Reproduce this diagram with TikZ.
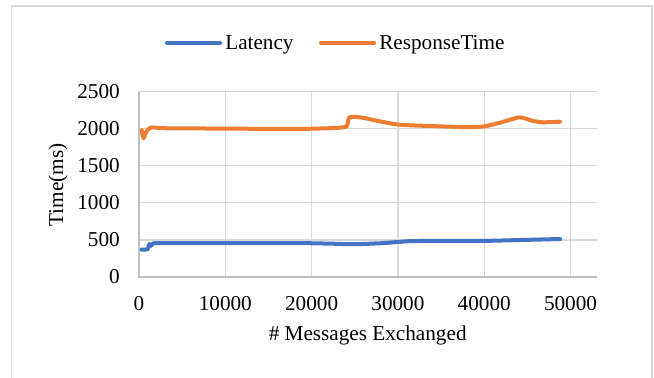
\documentclass[tikz,border=0pt]{standalone}
\usepackage{fontspec}
\setmainfont{Liberation Serif}
\definecolor{latc}{HTML}{4472C4}
\definecolor{respc}{HTML}{ED7D31}
\definecolor{gridc}{HTML}{D9D9D9}
\definecolor{axisc}{HTML}{BFBFBF}

\begin{document}
\begin{tikzpicture}[x=6.4725pt,y=5.565pt,font=\fontsize{15.9}{18}\selectfont]
\useasboundingbox (-16.107,-13.477) rectangle (59.676,37.332);
% chart frame (open at the bottom)
\draw[gridc,line width=1.1pt] (-14.77,-14.5) -- (-14.77,36.52) -- (59.44,36.52) -- (59.44,-14.5);
% grid
\draw[gridc,line width=1pt] (0,5) -- (53.07,5);
\draw[gridc,line width=1pt] (0,10) -- (53.07,10);
\draw[gridc,line width=1pt] (0,15) -- (53.07,15);
\draw[gridc,line width=1pt] (0,20) -- (53.07,20);
\draw[gridc,line width=1pt] (0,25) -- (53.07,25);
\draw[gridc,line width=1pt] (10,0) -- (10,25);
\draw[gridc,line width=1pt] (20,0) -- (20,25);
\draw[gridc,line width=1pt] (30,0) -- (30,25);
\draw[gridc,line width=1pt] (40,0) -- (40,25);
\draw[gridc,line width=1pt] (50,0) -- (50,25);
\draw[axisc,line width=1pt] (0,25) -- (0,0) -- (53.07,0);
% y ticks
\node[anchor=east,inner sep=0pt] (yt0) at (-2.2,0) {0};
\node[anchor=east,inner sep=0pt] (yt1) at (-2.2,5) {500};
\node[anchor=east,inner sep=0pt] (yt2) at (-2.2,10) {1000};
\node[anchor=east,inner sep=0pt] (yt3) at (-2.2,15) {1500};
\node[anchor=east,inner sep=0pt] (yt4) at (-2.2,20) {2000};
\node[anchor=east,inner sep=0pt] (yt5) at (-2.2,25) {2500};
% x ticks
\node[anchor=base,inner sep=0pt] (xt0) at (0,-4.45) {0};
\node[anchor=base,inner sep=0pt] (xt1) at (10,-4.45) {10000};
\node[anchor=base,inner sep=0pt] (xt2) at (20,-4.45) {20000};
\node[anchor=base,inner sep=0pt] (xt3) at (30,-4.45) {30000};
\node[anchor=base,inner sep=0pt] (xt4) at (40,-4.45) {40000};
\node[anchor=base,inner sep=0pt] (xt5) at (50,-4.45) {50000};
% axis titles
\node[anchor=base,inner sep=0pt] (xtitle) at (26.5,-8.49) {\# Messages Exchanged};
\node[rotate=90,inner sep=0pt] (ytitle) at (-9.39,12.4) {Time(ms)};
% series
\draw[latc,line width=3pt,line cap=round,line join=round] plot[smooth,tension=0.35] coordinates {
  (0.3,3.7) (1.0,3.75) (1.2,4.45) (1.4,4.2) (1.7,4.55) (5,4.55) (10,4.56) (18,4.58)
  (22,4.5) (25,4.42) (28,4.55) (30,4.72) (32,4.85) (40,4.87) (44,4.98) (48.8,5.12)};
\draw[respc,line width=3pt,line cap=round,line join=round] plot[smooth,tension=0.35] coordinates {
  (0.31,19.8) (0.52,18.7) (0.9,19.7) (1.4,20.15) (3,20.05) (10,20.0) (18,19.95) (22,20.05)
  (24,20.26) (24.3,21.4) (24.8,21.6) (26,21.45) (28,20.95) (30,20.55) (32,20.42) (38,20.2)
  (40,20.3) (42,20.85) (44.1,21.52) (45.6,21.05) (46.8,20.85) (48.8,20.93)};
% legend
\draw[latc,line width=3pt,line cap=round] (3.24,31.58) -- (9.39,31.58);
\node[anchor=base west,inner sep=0pt] (leglat) at (9.97,30.69) {Latency};
\draw[respc,line width=3pt,line cap=round] (21.09,31.58) -- (27.23,31.58);
\node[anchor=base west,inner sep=0pt] (legresp) at (27.81,30.69) {ResponseTime};
\end{tikzpicture}
\end{document}
